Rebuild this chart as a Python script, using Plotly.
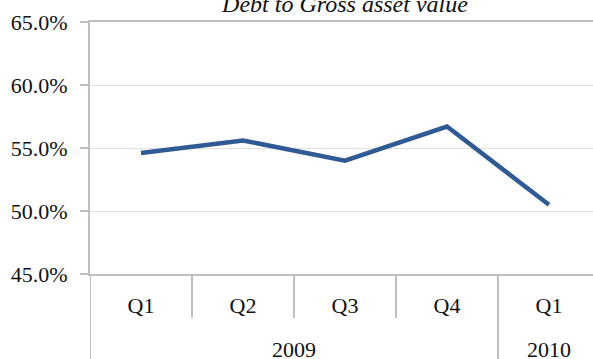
import plotly.graph_objects as go

years = ["2009", "2009", "2009", "2009", "2010"]
quarters = ["Q1", "Q2", "Q3", "Q4", "Q1"]
debt_to_gav = [0.546, 0.556, 0.540, 0.567, 0.505]
title_text = "Debt to Gross asset value"

FONT = "Liberation Serif"
AXIS_COLOR = "#BFBFBF"
TEXT_COLOR = "#111111"
PLOT_H = 359 - 22 - 85  # plot area height in px

idx = list(range(len(quarters)))

fig = go.Figure()
fig.add_trace(go.Scatter(
    x=idx, y=debt_to_gav, mode="lines",
    line=dict(color="#305A93", width=4.5),
    hoverinfo="skip",
))

# category boundaries: short lines between quarters, long lines between years
shapes = []
for i in range(len(quarters) + 1):
    xb = i - 0.5
    if i == 0 or i == len(quarters) or years[i] != years[i - 1]:
        ybot = -85 / PLOT_H - 0.05
    else:
        ybot = -44 / PLOT_H
    shapes.append(dict(type="line", xref="x", yref="paper", x0=xb, x1=xb, y0=0, y1=ybot,
                       line=dict(color=AXIS_COLOR, width=2), layer="below"))

# year group labels
annotations = []
groups = []
for i, y in enumerate(years):
    if not groups or groups[-1][0] != y:
        groups.append([y, []])
    groups[-1][1].append(i)
for y, members in groups:
    annotations.append(dict(text=y, xref="x", yref="paper", x=sum(members) / len(members),
                            y=-(349 - 274) / PLOT_H, yanchor="middle", xanchor="center",
                            showarrow=False, font=dict(family=FONT, size=22, color=TEXT_COLOR)))

fig.update_layout(
    width=593, height=359,
    margin=dict(l=90, r=0, t=22, b=85),
    paper_bgcolor="white", plot_bgcolor="white",
    showlegend=False,
    font=dict(family=FONT, size=22, color=TEXT_COLOR),
    title=dict(text="<i>" + title_text + "</i>", xref="container", x=345/593,
               xanchor="center", yref="container", y=1 - 4/359, yanchor="middle",
               font=dict(family=FONT, size=24, color=TEXT_COLOR)),
    shapes=shapes,
    annotations=annotations,
)

fig.update_yaxes(
    range=[0.45, 0.65], dtick=0.05, tickformat=".1%",
    showgrid=True, gridcolor="#E0E0E0", gridwidth=1,
    showline=True, linecolor=AXIS_COLOR, linewidth=2,
    ticks="outside", ticklen=8, tickcolor=AXIS_COLOR, tickwidth=2,
    ticklabelstandoff=8, zeroline=False,
)
fig.update_xaxes(
    range=[-0.5, 4.5 - 7/102],
    tickvals=idx, ticktext=quarters,
    showline=True, linecolor=AXIS_COLOR, linewidth=2, mirror=True,
    ticks="", ticklabelstandoff=11,
    showgrid=False, zeroline=False,
)

fig.write_html("out.html")
